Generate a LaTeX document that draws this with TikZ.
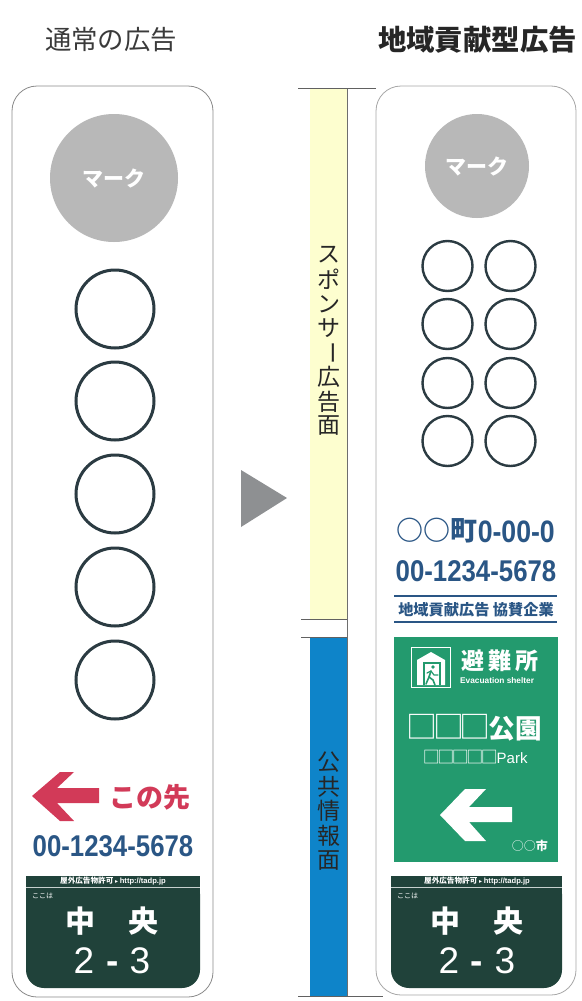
\documentclass[tikz,border=0pt]{standalone}
\usepackage{fontspec}
\setmainfont{Liberation Sans}
\newfontfamily\jp{Noto Sans CJK JP}
\newfontfamily\dv{DejaVu Sans}
\newcommand{\fs}[1]{\fontsize{#1}{#1}\selectfont}
\newcommand{\vchoon}{\rotatebox[origin=c]{-90}{ー}}
\newcommand{\sqbox}[1]{\makebox[#1][c]{□}}
\definecolor{panelline}{HTML}{8A8A8A}
\definecolor{ringcol}{HTML}{2B3B42}
\definecolor{markgray}{HTML}{B8B8B8}
\definecolor{redarrow}{HTML}{D23A58}
\definecolor{inkblue}{HTML}{2A5685}
\definecolor{signdark}{HTML}{20423A}
\definecolor{shelter}{HTML}{239A6E}
\definecolor{bandyellow}{HTML}{FDFECF}
\definecolor{bandblue}{HTML}{0E84C9}
\definecolor{tri}{HTML}{8E9092}
\definecolor{titleink}{HTML}{3A3A3A}
\tikzset{
  panel/.style={draw=panelline,line width=0.8pt,fill=white,rounded corners=25pt},
  ring/.style={circle,draw=ringcol,minimum size=#1,inner sep=0pt},
  markdisc/.style={circle,fill=markgray,text=white,minimum size=#1,inner sep=0pt,font=\jp\bfseries\fs{21}},
  phone/.style={text=inkblue,inner sep=0pt,xscale=0.86,font=\bfseries\fs{30}},
  rule/.style={draw=#1,line width=1pt},
  vglyph/.style={inner sep=0pt,font=\jp\fs{23},text=black!85},
  signtext/.style={text=white,inner sep=0pt},
}
\newcommand{\signboard}[8]{% x0,x1,cx,c1,c2,d1,d2,d3
  \fill[signdark,rounded corners=18pt] (#1,876) rectangle (#2,988);
  \fill[signdark] (#1,876) rectangle (#2,900);
  \draw[white!75!signdark,line width=0.6pt] (#1,887) -- (#2,887);
  \node[signtext,font=\jp\bfseries\fs{7.6}] at (#3,881.5) {屋外広告物許可 {\dv\fs{6}▸} {\rmfamily\bfseries http://tadp.jp}};
  \node[signtext,font=\jp\fs{7},anchor=west] at (#1+6,896) {ここは};
  \node[signtext,font=\jp\bfseries\fs{30}] at (#4,921) {中};
  \node[signtext,font=\jp\bfseries\fs{30}] at (#5,921) {央};
  \node[signtext,font=\fs{37},anchor=base] at (#6,973) {2};
  \node[signtext,font=\bfseries\fs{37},anchor=base] at (#7,973) {-};
  \node[signtext,font=\fs{37},anchor=base] at (#8,973) {3};
}
\begin{document}
\begin{tikzpicture}[x=1pt,y=-1pt]
\useasboundingbox (0,0) rectangle (581,1001);
% titles
\node[inner sep=0pt,text=titleink,font=\jp\fs{26.4}] (titleL) at (111,40) {通常の広告};
\node[inner sep=0pt,text=black!85,font=\jp\bfseries\fs{28.4}] (titleR) at (477.5,40) {地域貢献型広告};

% left panel
\draw[panel] (12,86) rectangle (213,997);
\node[markdisc=128pt] (markL) at (114,178) {マーク};
\foreach \yy/\nm in {309/a,401/b,494/c,587/d,680/e}
  \node[ring=78pt,line width=3pt] (L\nm) at (115,\yy) {};
\fill[redarrow] (32,796) -- (60,772) -- (74,772) -- (57,788) -- (99,788) -- (99,803) -- (57,803) -- (74,821) -- (60,821) -- cycle;
\node[inner sep=0pt,text=redarrow,font=\jp\bfseries\fs{27}] (konosaki) at (150,797) {この先};
\node[phone] (phoneL) at (113,846) {00-1234-5678};
\signboard{26}{200}{113}{80}{143}{84}{113}{140}

% centre triangle
\fill[tri] (241,470) -- (287,498) -- (241,527) -- cycle;

% bands
\fill[bandyellow] (310,88) rectangle (347,619);
\fill[bandblue] (310,637) rectangle (347,996);
\draw[panelline!80!black,line width=0.9pt] (347,88) -- (347,996);
\draw[panelline!70!black,line width=0.9pt] (298,88) -- (376,88);
\draw[panelline!70!black,line width=0.9pt] (301,619) -- (347,619);
\draw[panelline!70!black,line width=0.9pt] (301,637) -- (347,637);
\draw[panelline!70!black,line width=0.9pt] (298,996) -- (383,996);
\foreach \cc [count=\ii] in {ス,ポ,ン,サ,\vchoon,広,告,面}
  \node[vglyph] (sp\ii) at (329,{255+(\ii-1)*24.4}) {\cc};
\foreach \cc [count=\ii] in {公,共,情,報,面}
  \node[vglyph] (pu\ii) at (329,{762+(\ii-1)*24.6}) {\cc};

% right panel
\draw[panel,draw=panelline!75] (376,86) rectangle (576,995);
\node[markdisc=104pt] (markR) at (477,166) {マーク};
\foreach \yy/\nm in {266/a,324/b,383/c,441/d}{
  \node[ring=50pt,line width=2.4pt] (Rl\nm) at (447.5,\yy) {};
  \node[ring=50pt,line width=2.4pt] (Rr\nm) at (510.5,\yy) {};
}
\node[inner sep=0pt,text=inkblue,anchor=east,xscale=0.86,font=\bfseries\fs{31}] (addrnum) at (555,532) {0-00-0};
\node[inner sep=0pt,text=inkblue,anchor=east,font=\jp\bfseries\fs{27}] (addrjp) at (478,531) {○○町};
\node[phone] (phoneR) at (476,571) {00-1234-5678};
\draw[rule=inkblue,line width=1.3pt] (394,596) -- (557,596);
\draw[rule=inkblue,line width=1.3pt] (394,622) -- (557,622);
\node[inner sep=0pt,text=inkblue,font=\jp\bfseries\fs{15.2}] (kyosan) at (476,610) {地域貢献広告 協賛企業};

% shelter sign
\fill[shelter] (394,637) rectangle (558,862);
\draw[white,line width=1pt] (411.5,647.5) rectangle (450.5,687);
\fill[white] (431,652) -- (445,660) -- (445,685) -- (417,685) -- (417,660) -- cycle;
\draw[shelter,line width=1.4pt] (424,685) -- (424,663) -- (440,663) -- (440,685);
\fill[shelter] (433,667) circle (1.8);
\draw[shelter,line width=1.6pt,line cap=round,line join=round] (431,671) -- (429,677) -- (433,680) -- (435,685);
\draw[shelter,line width=1.6pt,line cap=round,line join=round] (429,677) -- (426,684);
\draw[shelter,line width=1.2pt,line cap=round,line join=round] (427,673) -- (431,671) -- (434,675) -- (438,675);
\node[inner sep=0pt,text=white,font=\jp\bfseries\fs{23},anchor=west] (hinan1) at (461,661) {避};
\node[inner sep=0pt,text=white,font=\jp\bfseries\fs{23}] (hinan2) at (500,661) {難};
\node[inner sep=0pt,text=white,font=\jp\bfseries\fs{23},anchor=east] (hinan3) at (539,661) {所};
\node[inner sep=0pt,text=white,font=\bfseries\fs{8.3},anchor=west] (evac) at (460,681) {Evacuation shelter};
\node[inner sep=0pt,text=white,font=\jp\bfseries\fs{26.6},anchor=west] (koen) at (409,728) {{\jp\mdseries\fs{31}\sqbox{26.5pt}\sqbox{26.5pt}\sqbox{26.5pt}}公園};
\node[inner sep=0pt,text=white,anchor=west,font=\jp\fs{17}] (park) at (424,757) {\sqbox{14.5pt}\sqbox{14.5pt}\sqbox{14.5pt}\sqbox{14.5pt}\sqbox{14.5pt}{\rmfamily\fs{15}Park}};
\fill[white] (440,815) -- (465,789) -- (486,789) -- (469,807) -- (512,807) -- (512,822) -- (469,822) -- (486,841) -- (465,841) -- cycle;
\node[inner sep=0pt,text=white,anchor=east,font=\jp\fs{12}] (city) at (548,846) {○○{\bfseries 市}};
\signboard{391}{562}{477}{445}{508}{449}{477}{505}
\end{tikzpicture}
\end{document}
